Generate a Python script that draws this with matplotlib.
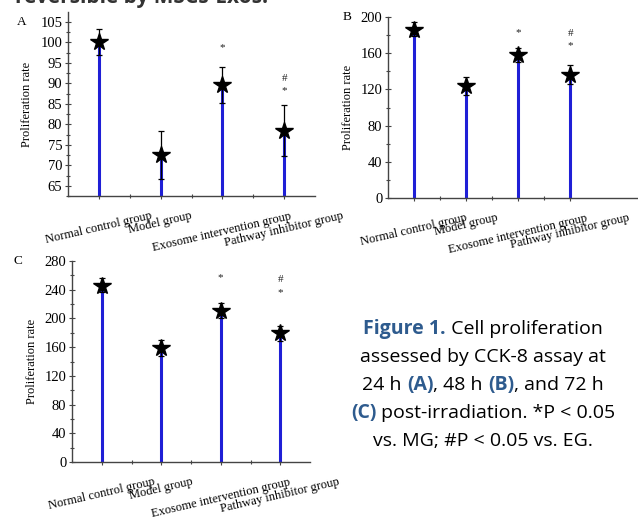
import numpy as np
import matplotlib.pyplot as plt
from matplotlib.ticker import MultipleLocator

# data
groups = ['Normal control group', 'Model group', 'Exosome intervention group', 'Pathway inhibitor group']

mean_a = [100.0, 72.6, 89.7, 78.3]
hi_a = [103.3, 78.3, 93.9, 84.6]
lo_a = [96.9, 66.6, 85.2, 72.2]

mean_b = [186, 124, 158, 136.4]
hi_b = [194, 133.5, 165.6, 147]
lo_b = [178.6, 114, 150, 126]

mean_c = [245.7, 158.5, 210.5, 179.4]
hi_c = [257, 170, 221, 189.6]
lo_c = [237, 148, 200, 169]

# significance marks: (group index, text, y)
sig_a = [(2, '*', 98.6), (3, '#', 91.1), (3, '*', 88.1)]
sig_b = [(2, '*', 183), (3, '#', 182), (3, '*', 168)]
sig_c = [(2, '*', 257), (3, '#', 254.5), (3, '*', 236)]

W, H = 638, 527
fig = plt.figure(figsize=(W / 100, H / 100), dpi=100)
plt.rcParams['font.family'] = 'Liberation Serif'


def px_axes(x0, y0, x1, y1):
    # pixel box (top-left origin) -> figure fraction
    return fig.add_axes([x0 / W, 1 - y1 / H, (x1 - x0) / W, (y1 - y0) / H])


def panel(ax, mean, hi, lo, sig, ylim, major, minor, xlim, letter, lx, ly):
    x = np.arange(len(mean))
    ax.set_xlim(*xlim)
    ax.set_ylim(*ylim)
    ax.vlines(x, ylim[0], mean, color='#1f1fd6', lw=2.2, zorder=2)
    mean = np.array(mean)
    err = [mean - np.array(lo), np.array(hi) - mean]
    ax.errorbar(x, mean, yerr=err, fmt='none', ecolor='black', elinewidth=0.9,
                capsize=2.5, capthick=0.9, zorder=3)
    ax.plot(x, mean, ls='none', marker='*', ms=13, color='black', zorder=4)
    for i, t, y in sig:
        ax.text(i, y, t, ha='center', va='center', fontsize=8, color='#222222')
    for s in ['top', 'right']:
        ax.spines[s].set_visible(False)
    for s in ['left', 'bottom']:
        ax.spines[s].set_color('#444444')
        ax.spines[s].set_linewidth(1.0)
    ax.yaxis.set_major_locator(MultipleLocator(major))
    ax.yaxis.set_minor_locator(MultipleLocator(minor))
    ax.set_xticks(x)
    ax.set_xticks(x[:-1] + 0.5, minor=True)
    ax.set_xticklabels(groups, rotation=13, ha='center')
    ax.tick_params(which='both', direction='inout', color='#444444', width=0.8)
    ax.tick_params(which='major', length=4, labelsize=10.5, pad=2)
    ax.tick_params(axis='x', which='major', labelsize=9, pad=8)
    ax.tick_params(which='minor', length=2.5)
    ax.set_ylabel('Proliferation rate', fontsize=9, labelpad=5)
    fig.text(lx / W, 1 - ly / H, letter, fontsize=9.5, ha='center', va='center')


ax_a = px_axes(68, 12, 315, 196)
panel(ax_a, mean_a, hi_a, lo_a, sig_a, (62.5, 107.4), 5, 2.5, (-0.5, 3.5), 'A', 22, 22)

ax_b = px_axes(388, 17, 638, 198)
panel(ax_b, mean_b, hi_b, lo_b, sig_b, (0, 200), 40, 20, (-0.5, 4.3), 'B', 347, 17)

ax_c = px_axes(72, 261, 310, 462)
panel(ax_c, mean_c, hi_c, lo_c, sig_c, (0, 280), 40, 20, (-0.5, 3.5), 'C', 18, 261)

# heading of the page, cut by the top edge as in the source
fig.text(15 / W, 1 - 3 / H, 'reversible by MSCs-Exos.', fontsize=15, fontweight='bold',
         family='Open Sans', color='#333333', ha='left', va='baseline')

# caption with coloured parts
blue = '#2e5b8e'
caption = [
    [('Figure 1.', blue, 'bold'), (' Cell proliferation', 'black', 'normal')],
    [('assessed by CCK-8 assay at', 'black', 'normal')],
    [('24 h ', 'black', 'normal'), ('(A)', blue, 'bold'), (', 48 h ', 'black', 'normal'),
     ('(B)', blue, 'bold'), (', and 72 h', 'black', 'normal')],
    [('(C)', blue, 'bold'), (' post-irradiation. *P < 0.05', 'black', 'normal')],
    [('vs. MG; #P < 0.05 vs. EG.', 'black', 'normal')],
]
cx = 483
line_y = [329, 357, 385, 413, 441]
fig.canvas.draw()
r = fig.canvas.get_renderer()
for segs, ly in zip(caption, line_y):
    arts = []
    for s, c, w in segs:
        t = fig.text(0, 1 - ly / H, s, color=c, fontweight=w, fontsize=14,
                     family='Open Sans', ha='left', va='center')
        arts.append(t)
    widths = [a.get_window_extent(r).width for a in arts]
    x0 = cx - sum(widths) / 2
    for a, wd in zip(arts, widths):
        a.set_x(x0 / W)
        x0 += wd

fig.savefig('out.png', dpi=100)
